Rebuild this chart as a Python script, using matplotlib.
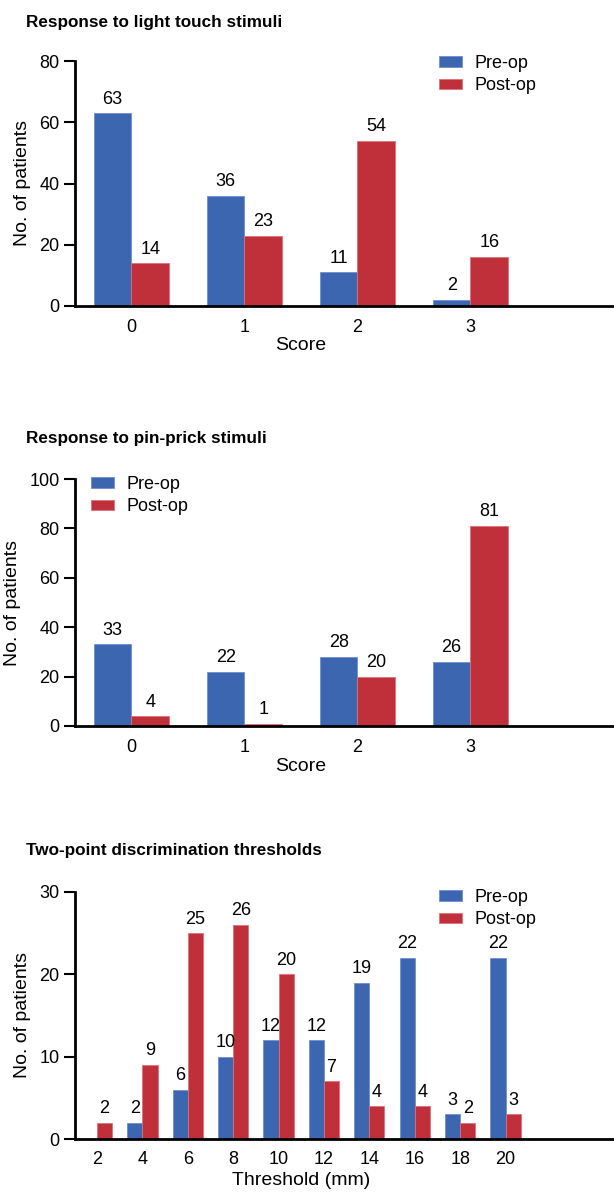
import numpy as np
import matplotlib
matplotlib.use("Agg")
import matplotlib.pyplot as plt

plt.rcParams['font.family'] = ['Liberation Sans', 'DejaVu Sans']

# Data
score_labels = ['0', '1', '2', '3']
touch_pre = [63, 36, 11, 2]
touch_post = [14, 23, 54, 16]
pin_pre = [33, 22, 28, 26]
pin_post = [4, 1, 20, 81]
thr_labels = ['2', '4', '6', '8', '10', '12', '14', '16', '18', '20']
thr_pre = [0, 2, 6, 10, 12, 12, 19, 22, 3, 22]
thr_post = [2, 9, 25, 26, 20, 7, 4, 4, 2, 3]

BLUE = '#3d66b0'
RED = '#c0303a'
W, H = 614, 1192

fig = plt.figure(figsize=(W / 100, H / 100), dpi=100)


def panel(rect, title, title_y, labels, pre, post, ymax, ystep, xlim, xlabel,
          xlabel_y, leg_xy, hide_zero=False):
    ax = fig.add_axes(rect)
    x = np.arange(len(labels))
    w = 1 / 3
    b1 = ax.bar(x - w / 2, pre, w, color=BLUE, edgecolor='#6f8fd0', linewidth=0.6,
                label='Pre-op')
    b2 = ax.bar(x + w / 2, post, w, color=RED, edgecolor='#e07078', linewidth=0.6,
                label='Post-op')
    for bars, vals in ((b1, pre), (b2, post)):
        for r, v in zip(bars, vals):
            if hide_zero and v == 0:
                continue
            ax.annotate(str(v), (r.get_x() + r.get_width() / 2, v),
                        xytext=(0, 4), textcoords='offset points',
                        ha='center', va='bottom', fontsize=13)
    ax.set_xlim(*xlim)
    ax.set_ylim(0, ymax)
    ax.set_yticks(np.arange(0, ymax + 1, ystep))
    ax.set_xticks(x)
    ax.set_xticklabels(labels)
    ax.tick_params(axis='y', length=8, width=1.5, labelsize=13, pad=3)
    ax.tick_params(axis='x', length=0, labelsize=13, pad=9)
    for s in ('top', 'right'):
        ax.spines[s].set_visible(False)
    ax.spines['left'].set_linewidth(2)
    ax.spines['bottom'].set_linewidth(2)
    ax.set_ylabel('No. of patients', fontsize=14, labelpad=6)
    ax.set_xlabel(xlabel, fontsize=14)
    cx = ((len(labels) - 1) / 2 - xlim[0]) / (xlim[1] - xlim[0])
    ax.xaxis.set_label_coords(cx, xlabel_y)
    ax.legend(loc='upper left', bbox_to_anchor=leg_xy,
              bbox_transform=fig.transFigure, frameon=False,
              fontsize=13, handlelength=1.3, handleheight=0.55,
              handletextpad=0.65, labelspacing=0.3, borderpad=0,
              borderaxespad=0)
    fig.text(26 / W, 1 - title_y / H, title, fontsize=12.3, fontweight='bold',
             ha='left', va='center')
    return ax


panel([75 / W, 1 - 306 / H, 1 - 75 / W, (306 - 61) / H],
      'Response to light touch stimuli', 22, score_labels, touch_pre, touch_post,
      80, 20, (-0.5, 4.27), 'Score', -0.125, (439 / W, 1 - 55 / H))

panel([75 / W, 1 - 726 / H, 1 - 75 / W, (726 - 479) / H],
      'Response to pin-prick stimuli', 439, score_labels, pin_pre, pin_post,
      100, 20, (-0.5, 4.27), 'Score', -0.13, (91 / W, 1 - 476 / H))

panel([75 / W, 1 - 1139 / H, 1 - 75 / W, (1139 - 892) / H],
      'Two-point discrimination thresholds', 851, thr_labels, thr_pre, thr_post,
      30, 10, (-0.485, 11.39), 'Threshold (mm)', -0.135, (439 / W, 1 - 889 / H),
      hide_zero=True)

fig.savefig('out.png', dpi=100)
